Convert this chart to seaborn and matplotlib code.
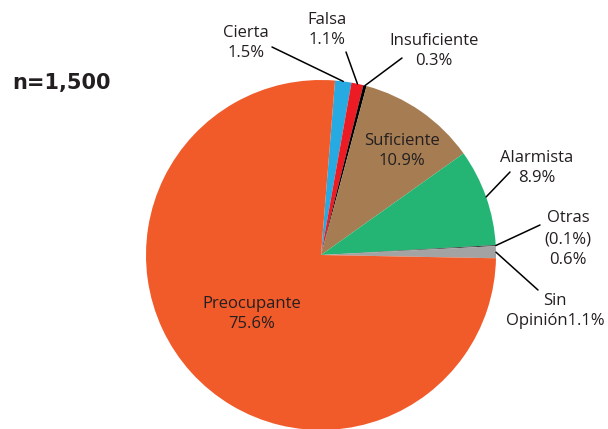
import numpy as np
import matplotlib
matplotlib.use("Agg")
import matplotlib.pyplot as plt
import seaborn as sns

# ── Data ─────────────────────────────────────────────────────────────────────
categories = ["Cierta", "Falsa", "Insuficiente", "Suficiente", "Alarmista",
              "Otras", "Sin Opinión", "Preocupante"]
shares = [1.5, 1.1, 0.3, 10.9, 8.9, 0.1, 1.1, 75.6]
label_texts = ["Cierta\n1.5%", "Falsa\n1.1%", "Insuficiente\n0.3%",
               "Suficiente\n10.9%", "Alarmista\n8.9%", "Otras\n(0.1%)\n0.6%",
               "Sin\nOpinión1.1%", "Preocupante\n75.6%"]
sample_note = "n=1,500"

colors = ["#27aae1", "#ed1c24", "#000000", "#a67c52", "#24b574",
          "#3a3a3a", "#a3a3a3", "#f15a29"]

# ── Layout (pixel space, y measured from top) ────────────────────────────────
W, H = 608, 429
center_px = (321, 255)
radius = 175
# text centre + leader line start (None = label drawn inside wedge)
label_pos = [(246, 43), (327, 30), (434, 51), (402, 151), (537, 168),
             (568, 239), (555, 311), (252, 314)]
leader_start = [(272, 47), (346, 52), (402, 58), None, (510, 172),
                (540, 225), (538, 290), None]

sns.set_theme(style="white")
plt.rcParams['font.family'] = ['Open Sans', 'DejaVu Sans']
text_color = "#231f20"

fig = plt.figure(figsize=(W / 100, H / 100), dpi=100)
ax = fig.add_axes([0, 0, 1, 1])
ax.set_xlim(0, W)
ax.set_ylim(0, H)
ax.set_aspect('equal')
ax.axis('off')

cx, cy = center_px[0], H - center_px[1]
wedges, _ = ax.pie(shares, colors=colors, startangle=85.4, counterclock=False,
                   center=(cx, cy), radius=radius,
                   wedgeprops=dict(linewidth=0))
ax.set_xlim(0, W)
ax.set_ylim(0, H)

for wedge, txt, pos, start in zip(wedges, label_texts, label_pos, leader_start):
    ax.text(pos[0], H - pos[1], txt, ha='center', va='center', fontsize=12,
            color=text_color, linespacing=1.38)
    if start is not None:
        mid = np.deg2rad((wedge.theta1 + wedge.theta2) / 2)
        ex = cx + radius * np.cos(mid)
        ey = cy + radius * np.sin(mid)
        ax.plot([start[0], ex], [H - start[1], ey], color="black", linewidth=1.1)

ax.text(12, H - 83, sample_note, ha='left', va='center', fontsize=15,
        fontweight='bold', family=['DejaVu Sans'], color=text_color)

fig.savefig("out.png", dpi=100)
